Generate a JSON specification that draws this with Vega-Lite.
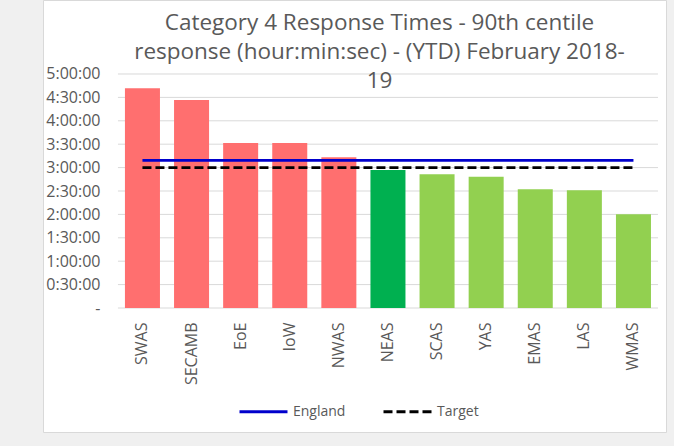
{
  "$schema": "https://vega.github.io/schema/vega-lite/v6.json",
  "width": 623,
  "height": 432,
  "autosize": {"type": "none"},
  "padding": {"left": 43, "top": 0, "right": 8, "bottom": 14},
  "background": "#F0F0F0",
  "config": {
    "view": {"fill": "white", "stroke": "#D9D9D9", "strokeWidth": 1},
    "font": "Open Sans"
  },
  "title": {
    "text": ["Category 4 Response Times - 90th centile", "response (hour:min:sec) - (YTD) February 2018-", "19"],
    "fontSize": 22.5,
    "fontWeight": "normal",
    "font": "Open Sans",
    "color": "#595959",
    "lineHeight": 29,
    "offset": -92,
    "dx": 25,
    "anchor": "middle",
    "frame": "group"
  },
  "datasets": {
    "trusts": [
      {"trust": "SWAS", "time": 16900, "status": "Above target"},
      {"trust": "SECAMB", "time": 16000, "status": "Above target"},
      {"trust": "EoE", "time": 12690, "status": "Above target"},
      {"trust": "IoW", "time": 12690, "status": "Above target"},
      {"trust": "NWAS", "time": 11590, "status": "Above target"},
      {"trust": "NEAS", "time": 10615, "status": "NEAS"},
      {"trust": "SCAS", "time": 10282, "status": "Within target"},
      {"trust": "YAS", "time": 10102, "status": "Within target"},
      {"trust": "EMAS", "time": 9128, "status": "Within target"},
      {"trust": "LAS", "time": 9051, "status": "Within target"},
      {"trust": "WMAS", "time": 7205, "status": "Within target"}
    ],
    "refs": [
      {"trust": "SWAS", "series": "England", "time": 11359},
      {"trust": "SECAMB", "series": "England", "time": 11359},
      {"trust": "EoE", "series": "England", "time": 11359},
      {"trust": "IoW", "series": "England", "time": 11359},
      {"trust": "NWAS", "series": "England", "time": 11359},
      {"trust": "NEAS", "series": "England", "time": 11359},
      {"trust": "SCAS", "series": "England", "time": 11359},
      {"trust": "YAS", "series": "England", "time": 11359},
      {"trust": "EMAS", "series": "England", "time": 11359},
      {"trust": "LAS", "series": "England", "time": 11359},
      {"trust": "WMAS", "series": "England", "time": 11359},
      {"trust": "SWAS", "series": "Target", "time": 10800},
      {"trust": "SECAMB", "series": "Target", "time": 10800},
      {"trust": "EoE", "series": "Target", "time": 10800},
      {"trust": "IoW", "series": "Target", "time": 10800},
      {"trust": "NWAS", "series": "Target", "time": 10800},
      {"trust": "NEAS", "series": "Target", "time": 10800},
      {"trust": "SCAS", "series": "Target", "time": 10800},
      {"trust": "YAS", "series": "Target", "time": 10800},
      {"trust": "EMAS", "series": "Target", "time": 10800},
      {"trust": "LAS", "series": "Target", "time": 10800},
      {"trust": "WMAS", "series": "Target", "time": 10800}
    ],
    "grid": [
      {"t": 0}, {"t": 1800}, {"t": 3600}, {"t": 5400}, {"t": 7200}, {"t": 9000},
      {"t": 10800}, {"t": 12600}, {"t": 14400}, {"t": 16200}, {"t": 18000}
    ]
  },
  "layer": [
    {
      "data": {"name": "grid"},
      "mark": {"type": "rule", "color": "#D9D9D9", "strokeWidth": 1},
      "encoding": {
        "y": {"field": "t", "type": "quantitative", "scale": {"domain": [-9538, 23692], "nice": false, "zero": false}},
        "x": {"datum": "SWAS", "type": "nominal", "bandPosition": -0.2},
        "x2": {"datum": "WMAS", "bandPosition": 1.2}
      }
    },
    {
      "data": {"name": "trusts"},
      "mark": {"type": "bar"},
      "encoding": {
        "x": {
          "field": "trust",
          "type": "nominal",
          "sort": null,
          "scale": {
            "domain": ["SWAS", "SECAMB", "EoE", "IoW", "NWAS", "NEAS", "SCAS", "YAS", "EMAS", "LAS", "WMAS"],
            "paddingInner": 0.287,
            "paddingOuter": 0.9875,
            "align": 0.845
          },
          "axis": {
            "orient": "bottom",
            "offset": -124,
            "labelAngle": -90,
            "labelPadding": 14,
            "domain": false,
            "ticks": false,
            "labelFontSize": 16,
            "labelColor": "#595959",
            "title": null
          }
        },
        "y": {
          "field": "time",
          "type": "quantitative",
          "scale": {"domain": [-9538, 23692], "nice": false, "zero": false},
          "axis": {
            "values": [0, 1800, 3600, 5400, 7200, 9000, 10800, 12600, 14400, 16200, 18000],
            "labelExpr": "datum.value == 0 ? '-' : floor(datum.value/3600) + ':' + (floor((datum.value%3600)/60) < 10 ? '0' : '') + floor((datum.value%3600)/60) + ':00'",
            "grid": false,
            "domain": false,
            "ticks": false,
            "offset": -62,
            "labelPadding": 5,
            "labelFontSize": 16,
            "labelColor": "#595959",
            "title": null
          }
        },
        "fill": {
          "field": "status",
          "type": "nominal",
          "scale": {"domain": ["Above target", "NEAS", "Within target"], "range": ["#FF6F6F", "#00B050", "#92D050"]},
          "legend": null
        }
      }
    },
    {
      "data": {"name": "refs"},
      "mark": {"type": "line", "strokeWidth": 2.8},
      "encoding": {
        "x": {"field": "trust", "type": "nominal", "sort": null},
        "y": {"field": "time", "type": "quantitative"},
        "stroke": {
          "field": "series",
          "type": "nominal",
          "scale": {"domain": ["England", "Target"], "range": ["#0000CC", "#000000"]},
          "legend": {
            "orient": "none",
            "legendX": 195,
            "legendY": 386,
            "direction": "horizontal",
            "title": null,
            "symbolType": "stroke",
            "symbolSize": 2304,
            "symbolStrokeWidth": 2.8,
            "labelFontSize": 14,
            "labelColor": "#595959",
            "columnPadding": 31
          }
        },
        "strokeDash": {
          "field": "series",
          "type": "nominal",
          "scale": {"domain": ["England", "Target"], "range": [[1, 0], [9, 4]]},
          "legend": {
            "orient": "none",
            "legendX": 195,
            "legendY": 386,
            "direction": "horizontal",
            "title": null,
            "symbolType": "stroke",
            "symbolSize": 2304,
            "symbolStrokeWidth": 2.8,
            "labelFontSize": 14,
            "labelColor": "#595959",
            "columnPadding": 31
          }
        }
      }
    }
  ]
}
